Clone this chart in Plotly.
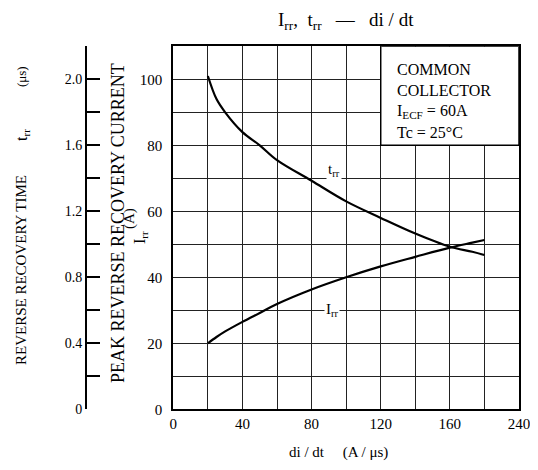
import plotly.graph_objects as go

# страница рисуется с отступом body 8px, поэтому фигура чуть меньше окна
OFF = 8
W, H = 538 - OFF, 470 - OFF
FONT = 'Liberation Serif'

# di/dt (A/us) и кривые
di_dt = [20, 25, 30, 40, 50, 60, 80, 100, 120, 140, 160, 173, 180]
trr = [2.02, 1.88, 1.80, 1.68, 1.60, 1.51, 1.385, 1.26, 1.16, 1.065, 0.985, 0.955, 0.935]
irr = [20.0, 21.9, 23.6, 26.5, 29.2, 31.9, 36.3, 40.0, 43.3, 46.2, 49.0, 50.5, 51.3]

x_ticks = [0, 20, 40, 60, 80, 100, 120, 140, 160, 180, 200]
x_ticktext = ['0', '', '40', '', '80', '', '120', '', '160', '', '240']
irr_ticks = [0, 10, 20, 30, 40, 50, 60, 70, 80, 90, 100]
irr_ticktext = ['0', '', '20', '', '40', '', '60', '', '80', '', '100']
trr_ticks = [0, 0.2, 0.4, 0.6, 0.8, 1.0, 1.2, 1.4, 1.6, 1.8, 2.0, 2.2]
trr_ticktext = ['0', '', '0.4', '', '0.8', '', '1.2', '', '1.6', '', '2.0', '']

box_lines = ['COMMON', 'COLLECTOR', 'I<sub>ECF</sub> = 60A', 'Tc = 25°C']

# пиксели рамки графика (координаты окна)
X0, X1, Y0, Y1 = 173.3, 519, 409.3, 46.3
TRR_AXIS = 87
X_MAX = 200


def px(x):
    return (x - OFF) / W


def py(y):
    return 1 - (y - OFF) / H


# скрытая ось x для шкалы t_rr: начинается у оси t_rr, масштаб как у основной
x2_lo = -(X0 - TRR_AXIS) / ((X1 - X0) / X_MAX)

fig = go.Figure()
fig.add_trace(go.Scatter(x=di_dt, y=irr, mode='lines', xaxis='x', yaxis='y',
                         line=dict(color='black', width=2.2, shape='spline')))
fig.add_trace(go.Scatter(x=di_dt, y=trr, mode='lines', xaxis='x2', yaxis='y2',
                         line=dict(color='black', width=2.2, shape='spline')))

fig.update_layout(
    width=W, height=H, showlegend=False,
    margin=dict(l=0, r=0, t=0, b=0, autoexpand=False),
    paper_bgcolor='white', plot_bgcolor='rgba(0,0,0,0)',
    font=dict(family=FONT, color='black', size=14),
    xaxis=dict(domain=[px(X0), px(X1)], range=[0, X_MAX], anchor='y', automargin=False,
               tickmode='array', tickvals=x_ticks, ticktext=x_ticktext, ticks='',
               tickfont=dict(size=15),
               showgrid=True, gridcolor='#222222', gridwidth=1.4,
               showline=True, linecolor='black', linewidth=2, mirror=True,
               zeroline=False),
    yaxis=dict(domain=[py(Y0), py(Y1)], range=[0, 110], anchor='x', automargin=False,
               tickmode='array', tickvals=irr_ticks, ticktext=irr_ticktext, ticks='',
               tickfont=dict(size=15), ticklabelstandoff=6,
               showgrid=True, gridcolor='#222222', gridwidth=1.4,
               showline=True, linecolor='black', linewidth=2, mirror=True,
               zeroline=False),
    xaxis2=dict(domain=[px(TRR_AXIS), px(X1)], range=[x2_lo, X_MAX], anchor='y2',
                automargin=False, visible=False, showgrid=False, zeroline=False),
    yaxis2=dict(domain=[py(Y0), py(Y1)], range=[0, 2.2], anchor='x2', side='left',
                automargin=False,
                tickmode='array', tickvals=trr_ticks, ticktext=trr_ticktext,
                ticks='inside', ticklen=13, tickwidth=2, tickcolor='black',
                tickfont=dict(size=14),
                showline=True, linecolor='black', linewidth=2,
                showgrid=False, zeroline=False),
)

# белая рамка под пояснения
fig.add_shape(type='rect', xref='x', yref='y', x0=120, x1=200, y0=80, y1=110,
              fillcolor='white', line=dict(color='black', width=1.5), layer='above')

for i, t in enumerate(box_lines):
    fig.add_annotation(x=px(395), y=py(69 + i * 21), xref='paper', yref='paper',
                       text=t, showarrow=False, xanchor='left', yanchor='middle',
                       font=dict(size=16))

# подписи кривых
fig.add_annotation(x=93, y=72.5, xref='x', yref='y', text='t<sub>rr</sub>',
                   showarrow=False, font=dict(size=15), bgcolor='white')
fig.add_annotation(x=92, y=30, xref='x', yref='y', text='I<sub>rr</sub>',
                   showarrow=False, font=dict(size=15), bgcolor='white')


def label(x, y, text, size, angle=0):
    fig.add_annotation(x=px(x), y=py(y), xref='paper', yref='paper', text=text,
                       textangle=angle, showarrow=False, xanchor='center',
                       yanchor='middle', font=dict(size=size))


# заголовки
label(346, 21, 'I<sub>rr</sub>,  t<sub>rr</sub>   —   di / dt', 19)
label(338, 452, 'di / dt     (A / μs)', 15)

label(21, 270, 'REVERSE RECOVERY TIME', 15, -90)
label(22, 135, 't<sub>rr</sub>', 16, -90)
label(21, 77, '(μs)', 13, -90)

label(118, 223, 'PEAK REVERSE RECOVERY CURRENT', 18, -90)
label(129, 219, '(A)', 15, -90)
label(140, 238, 'I<sub>rr</sub>', 16, -90)

fig.write_html('out.html')
